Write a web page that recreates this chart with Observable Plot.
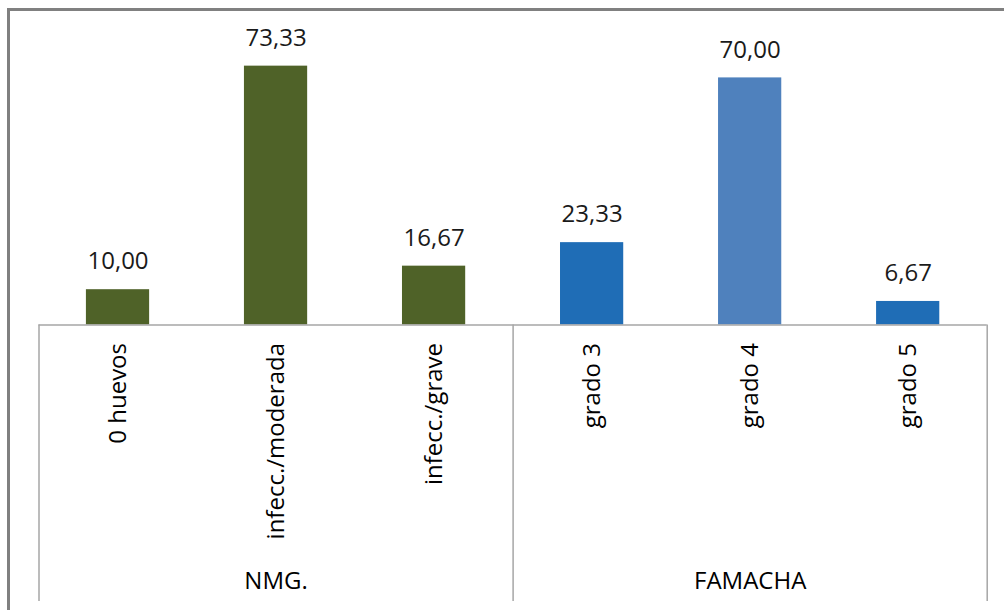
<!DOCTYPE html>
<html><head><meta charset="utf-8">
<script src="https://cdn.jsdelivr.net/npm/d3@7"></script>
<script src="https://cdn.jsdelivr.net/npm/@observablehq/plot@0.6"></script>
<style>
html,body{margin:0;padding:0;background:#fff;overflow:hidden;width:1004px;height:610px;}
#chart{position:absolute;left:0;top:0;}
#frame{position:absolute;left:7px;top:8px;width:2000px;height:2000px;border-left:3px solid #808080;border-top:3px solid #808080;pointer-events:none;}
</style></head><body>
<div id="chart"></div><div id="frame"></div>
<script>
const categories = ["0 huevos", "infecc./moderada", "infecc./grave", "grado 3", "grado 4", "grado 5"];
const values = [10.00, 73.33, 16.67, 23.33, 70.00, 6.67];
const groups = ["NMG.", "NMG.", "NMG.", "FAMACHA", "FAMACHA", "FAMACHA"];
const groupNames = ["NMG.", "FAMACHA"];

const palette = ["#4F6228", "#4F6228", "#4F6228", "#1F6DB6", "#4F81BD", "#1F6DB6"];

const data = categories.map((c, i) => ({i, category: c, value: values[i], group: groups[i]}));
const groupInfo = [];
let start = 0;
for (const g of groupNames) {
  const n = groups.filter(x => x === g).length;
  groupInfo.push({name: g, start, end: start + n, mid: start + n / 2});
  start += n;
}
const bounds = [0, ...groupInfo.map(g => g.end)];
const fmt = v => v.toFixed(2).replace(".", ",");
const font = "'Open Sans', sans-serif";

const chart = Plot.plot({
  width: 1004,
  height: 610,
  marginLeft: 38.5,
  marginRight: 17.3,
  marginTop: 42.1,
  marginBottom: 285.5,
  x: {type: "linear", domain: [0, categories.length], axis: null},
  y: {domain: [0, 80], axis: null},
  style: {fontFamily: font, background: "white", overflow: "visible"},
  marks: [
    Plot.rect(data, {x1: d => d.i + 0.3, x2: d => d.i + 0.7, y1: 0, y2: "value", fill: d => palette[d.i]}),
    Plot.ruleY([0], {x1: 0, x2: categories.length, stroke: "#A6A6A6", strokeWidth: 1.3}),
    Plot.ruleX(bounds, {x: d => d, y1: 0, y2: -78.3, stroke: "#A6A6A6", strokeWidth: 1.5}),
    Plot.text(data, {x: d => d.i + 0.5, y: "value", text: d => fmt(d.value), dy: -28, lineAnchor: "middle", fontSize: 24, fill: "#1a1a1a"}),
    Plot.text(data, {x: d => d.i + 0.5, y: 0, text: "category", rotate: -90, textAnchor: "end", lineAnchor: "middle", dy: 18, fontSize: 24, fill: "#000"}),
    Plot.text(groupInfo, {x: "mid", y: -72.5, text: "name", lineAnchor: "middle", fontSize: 24, fill: "#000"})
  ]
});
document.getElementById("chart").appendChild(chart);
</script>
</body></html>
